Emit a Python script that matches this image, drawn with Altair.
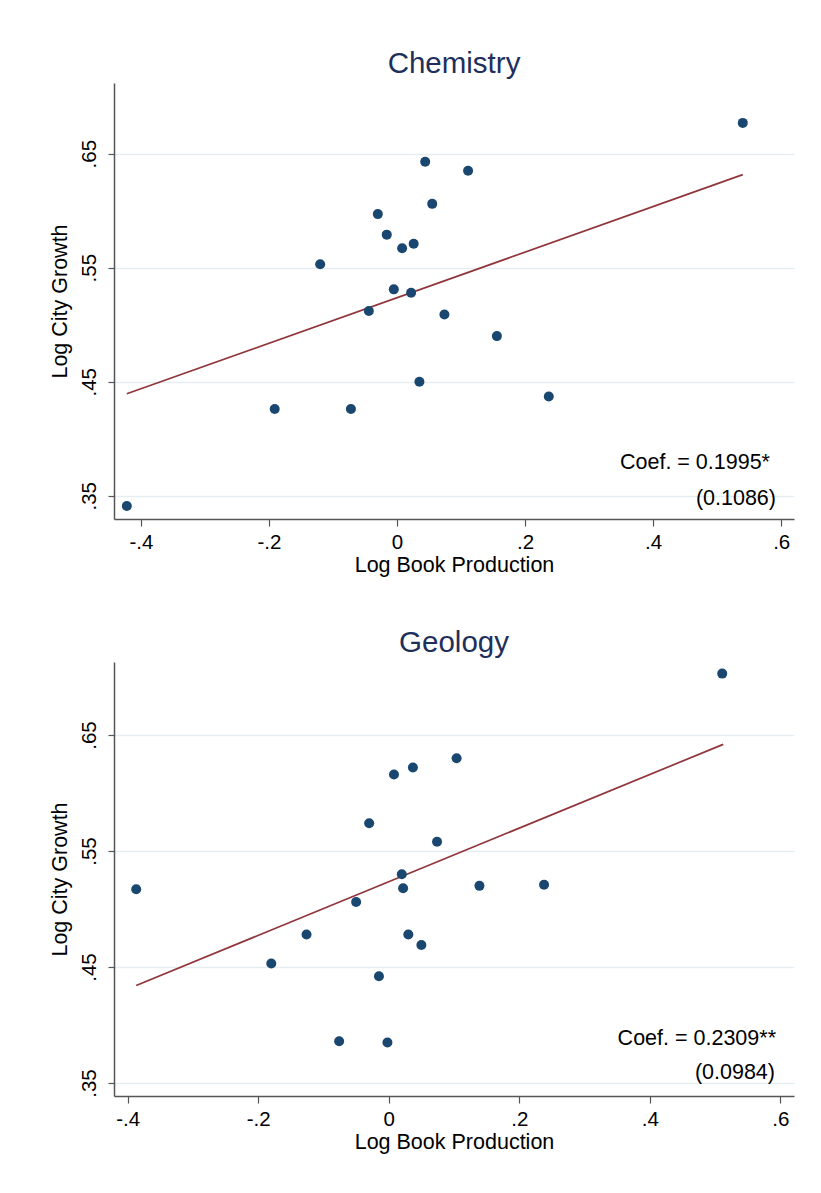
import altair as alt
import pandas as pd

# ---- data ----
chem_x = [-0.422, -0.191, -0.120, -0.072, -0.044, -0.030, -0.016, -0.005, 0.008, 0.022,
          0.026, 0.035, 0.044, 0.055, 0.074, 0.111, 0.156, 0.237, 0.540]
chem_y = [0.341, 0.426, 0.553, 0.426, 0.512, 0.597, 0.579, 0.531, 0.567, 0.528,
          0.571, 0.450, 0.643, 0.606, 0.509, 0.635, 0.490, 0.437, 0.677]
chem_fit_x = [-0.422, 0.540]
chem_fit_y = [0.4394, 0.6316]

geo_x = [-0.387, -0.180, -0.126, -0.076, -0.050, -0.030, -0.015, -0.002, 0.008, 0.020,
         0.022, 0.030, 0.037, 0.050, 0.074, 0.104, 0.139, 0.238, 0.511]
geo_y = [0.517, 0.453, 0.478, 0.386, 0.506, 0.574, 0.442, 0.385, 0.616, 0.530,
         0.518, 0.478, 0.622, 0.469, 0.558, 0.630, 0.520, 0.521, 0.703]
geo_fit_x = [-0.387, 0.5125]
geo_fit_y = [0.4341, 0.6420]

x_ticks = [-0.4, -0.2, 0, 0.2, 0.4, 0.6]
x_tick_labels = ["-.4", "-.2", "0", ".2", ".4", ".6"]
y_ticks = [0.35, 0.45, 0.55, 0.65]
y_tick_labels = [".35", ".45", ".55", ".65"]

panel_titles = ["Chemistry", "Geology"]
coef_texts = ["Coef. = 0.1995*", "Coef. = 0.2309**"]
se_texts = ["(0.1086)", "(0.0984)"]
x_title = "Log Book Production"
y_title = "Log City Growth"

FONT = "Liberation Sans"
DOT = "#1a476f"
LINE = "#90353b"
TITLE_COLOR = "#1e2f5c"
GRID = "#e6edf1"
AXIS = "#555555"


def label_expr(ticks, labels):
    expr = "''"
    for t, l in reversed(list(zip(ticks, labels))):
        expr = f"abs(datum.value - ({t})) < 1e-6 ? '{l}' : {expr}"
    return expr


def panel(title, xs, ys, fx, fy, coef, se, xdom, ydom, w, h, coef_x, coef_y, se_x, se_y):
    pts = pd.DataFrame({"x": xs, "y": ys})
    fit = pd.DataFrame({"x": fx, "y": fy})
    xscale = alt.Scale(domain=xdom, nice=False, zero=False)
    yscale = alt.Scale(domain=ydom, nice=False, zero=False)
    xaxis = alt.Axis(
        values=x_ticks, labelExpr=label_expr(x_ticks, x_tick_labels), title=x_title,
        grid=False, tickSize=7, tickColor=AXIS, domainColor=AXIS, domainWidth=1.5,
        tickWidth=1.2, labelPadding=6, titlePadding=2, labelFontSize=20.5,
        titleFontSize=21.5, titleFontWeight="normal", labelFont=FONT, titleFont=FONT,
        labelColor="black", titleColor="black", labelFlush=False, labelOverlap=False)
    yaxis = alt.Axis(
        values=y_ticks, labelExpr=label_expr(y_ticks, y_tick_labels), title=y_title,
        grid=True, gridColor=GRID, gridWidth=1.5, tickSize=6, tickColor=AXIS,
        domainColor=AXIS, domainWidth=1.5, tickWidth=1.2, labelAngle=270,
        labelAlign="center", labelBaseline="bottom", labelPadding=9,
        titlePadding=8, labelFontSize=20.5, titleFontSize=21.5,
        titleFontWeight="normal", labelFont=FONT, titleFont=FONT,
        labelColor="black", titleColor="black", labelFlush=False, labelOverlap=False)

    dots = alt.Chart(pts).mark_circle(size=100, color=DOT, opacity=1).encode(
        x=alt.X("x:Q", scale=xscale, axis=xaxis),
        y=alt.Y("y:Q", scale=yscale, axis=yaxis),
    )
    line = alt.Chart(fit).mark_line(color=LINE, strokeWidth=1.7).encode(
        x=alt.X("x:Q", scale=xscale), y=alt.Y("y:Q", scale=yscale)
    )
    t1 = alt.Chart(pd.DataFrame({"t": [coef]})).mark_text(
        align="right", baseline="alphabetic", fontSize=21.5, font=FONT, color="black"
    ).encode(text="t:N", x=alt.value(coef_x), y=alt.value(coef_y))
    t2 = alt.Chart(pd.DataFrame({"t": [se]})).mark_text(
        align="right", baseline="alphabetic", fontSize=21.5, font=FONT, color="black"
    ).encode(text="t:N", x=alt.value(se_x), y=alt.value(se_y))

    return alt.layer(line, dots, t1, t2).properties(
        width=w, height=h,
        title=alt.TitleParams(text=title, fontSize=29.5, font=FONT, color=TITLE_COLOR,
                              fontWeight="normal", anchor="middle", offset=4),
    )


top = panel(panel_titles[0], chem_x, chem_y, chem_fit_x, chem_fit_y,
            coef_texts[0], se_texts[0], [-0.442, 0.620], [0.3296, 0.712], 680, 436,
            656, 386, 662, 422)
bottom = panel(panel_titles[1], geo_x, geo_y, geo_fit_x, geo_fit_y,
               coef_texts[1], se_texts[1], [-0.421, 0.621], [0.3388, 0.713], 680, 434,
               662, 383, 661, 417)

chart = alt.vconcat(top, bottom, spacing=51).properties(
    padding={"left": 41, "top": 40, "right": 10, "bottom": 10}
).configure_view(stroke=None)

chart.save("out.html", embed_options={"renderer": "svg", "actions": False})
